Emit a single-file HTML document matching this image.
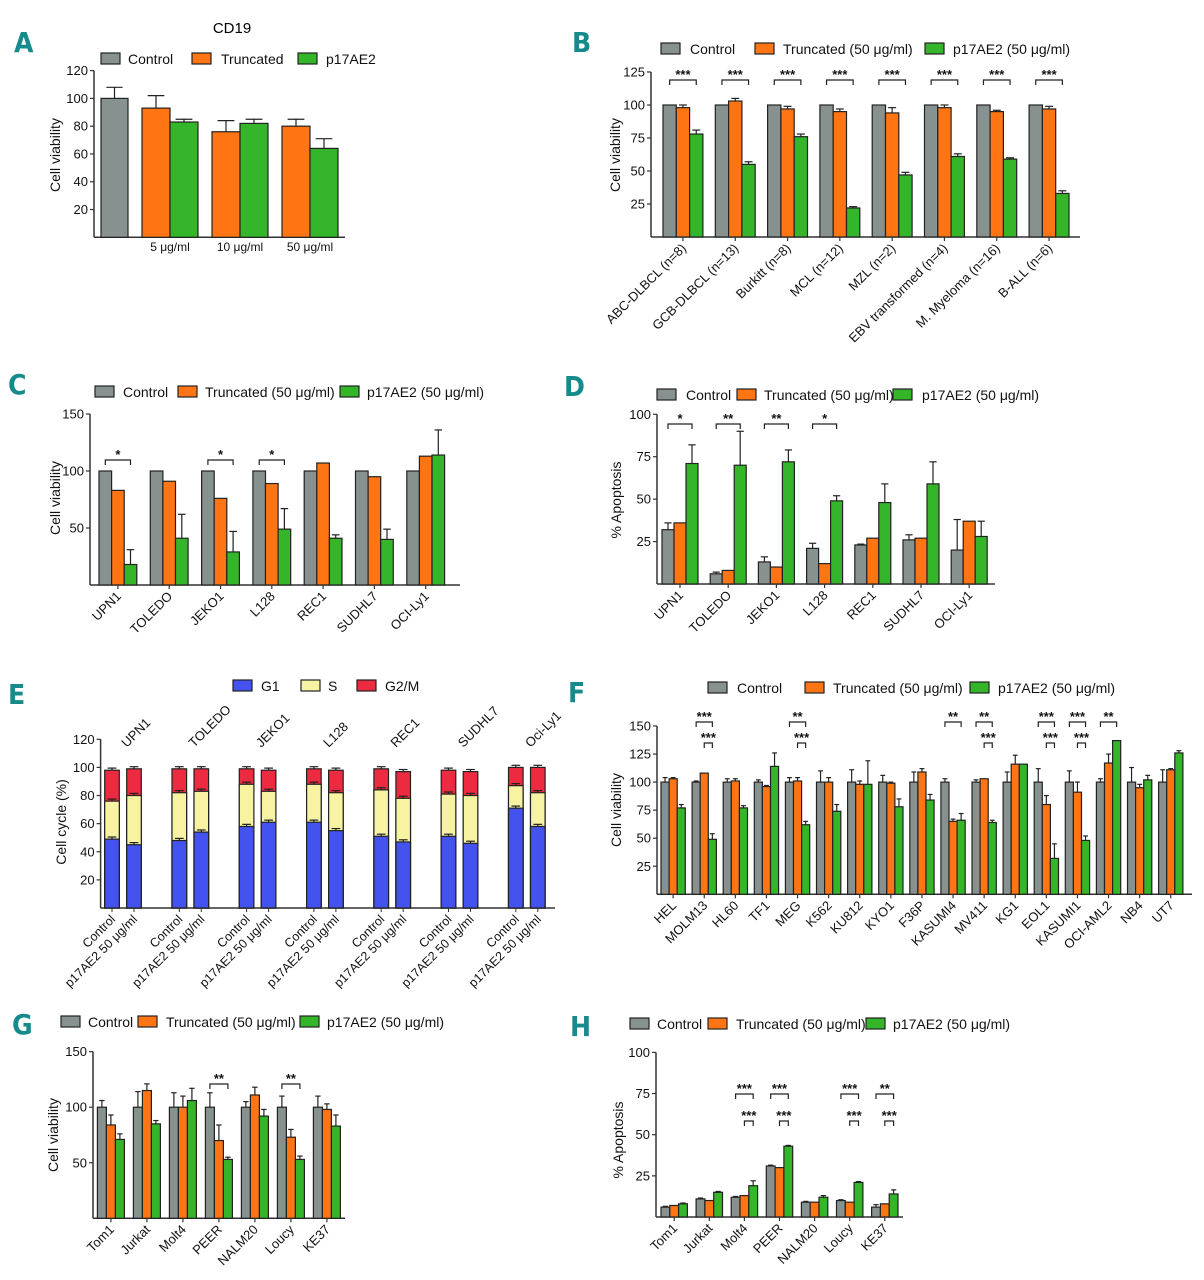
<!DOCTYPE html>
<html><head><meta charset="utf-8">
<style>
body{margin:0;background:#fff;}
svg{display:block;font-family:"Liberation Sans",sans-serif;}
.pl{font-family:"DejaVu Sans Condensed","Liberation Sans Narrow","Liberation Sans",sans-serif;font-weight:bold;fill:#178a8c;font-size:28px;}
</style></head>
<body>
<svg id="fig" width="1204" height="1280" viewBox="0 0 1204 1280" xmlns="http://www.w3.org/2000/svg">
<rect width="1204" height="1280" fill="#fff"/>
<text class="pl" x="14" y="52">A</text>
<text class="pl" x="572" y="52">B</text>
<text class="pl" x="8" y="394">C</text>
<text class="pl" x="564" y="396">D</text>
<text class="pl" x="8" y="704">E</text>
<text class="pl" x="568" y="702">F</text>
<text class="pl" x="12" y="1034">G</text>
<text class="pl" x="570" y="1036">H</text>
<text x="232" y="33" font-size="15" text-anchor="middle">CD19</text>
</svg>
<script>
// ---------- data ----------
const aCats = ["", "5 μg/ml", "10 μg/ml", "50 μg/ml"];
const aCtrl = [100, null, null, null];
const aTrunc = [null, 93, 76, 80];
const aGreen = [null, 83, 82, 64];
const aCtrlErr = [8, 0, 0, 0];
const aTruncErr = [0, 9, 8, 5];
const aGreenErr = [0, 2, 3, 7];
const aTicks = [20, 40, 60, 80, 100, 120];

const bCats = ["ABC-DLBCL (n=8)", "GCB-DLBCL (n=13)", "Burkitt (n=8)", "MCL (n=12)", "MZL (n=2)", "EBV transformed (n=4)", "M. Myeloma (n=16)", "B-ALL (n=6)"];
const bCtrl = [100, 100, 100, 100, 100, 100, 100, 100];
const bTrunc = [98, 103, 97, 95, 94, 98, 95, 97];
const bGreen = [78, 55, 76, 22, 47, 61, 59, 33];
const bTruncErr = [2, 2, 2, 2, 4, 2, 1, 2];
const bGreenErr = [3, 2, 2, 1, 2, 2, 1, 2];
const bTicks = [25, 50, 75, 100, 125];
const bSig = ["***", "***", "***", "***", "***", "***", "***", "***"];

const cCats = ["UPN1", "TOLEDO", "JEKO1", "L128", "REC1", "SUDHL7", "OCI-Ly1"];
const cCtrl = [100, 100, 100, 100, 100, 100, 100];
const cTrunc = [83, 91, 76, 89, 107, 95, 113];
const cGreen = [18, 41, 29, 49, 41, 40, 114];
const cGreenErr = [13, 21, 18, 18, 3, 9, 22];
const cTicks = [50, 100, 150];
const cSig = ["*", "", "*", "*", "", "", ""];

const dCats = ["UPN1", "TOLEDO", "JEKO1", "L128", "REC1", "SUDHL7", "OCI-Ly1"];
const dCtrl = [32, 6, 13, 21, 23, 26, 20];
const dTrunc = [36, 8, 10, 12, 27, 27, 37];
const dGreen = [71, 70, 72, 49, 48, 59, 28];
const dCtrlErr = [4, 1, 3, 3, 0.5, 3, 18];
const dGreenErr = [11, 20, 7, 3, 11, 13, 9];
const dTicks = [25, 50, 75, 100];
const dSig = ["*", "**", "**", "*", "", "", ""];

const eCats = ["UPN1", "TOLEDO", "JEKO1", "L128", "REC1", "SUDHL7", "Oci-Ly1"];
const eCtrlG1 = [49, 48, 58, 61, 51, 51, 71];
const eCtrlS = [27, 34, 30, 27, 33, 30, 16];
const eCtrlG2 = [22, 17, 11, 11, 15, 17, 13];
const eP17G1 = [45, 54, 61, 55, 47, 46, 58];
const eP17S = [35, 29, 22, 27, 31, 34, 24];
const eP17G2 = [19, 16, 15, 16, 19, 17, 18];
const eTicks = [20, 40, 60, 80, 100, 120];

const fCats = ["HEL", "MOLM13", "HL60", "TF1", "MEG", "K562", "KU812", "KYO1", "F36P", "KASUMI4", "MV411", "KG1", "EOL1", "KASUMI1", "OCI-AML2", "NB4", "UT7"];
const fCtrl = [100, 100, 100, 100, 100, 100, 100, 100, 100, 100, 100, 100, 100, 100, 100, 100, 100];
const fTrunc = [103, 108, 101, 96, 101, 100, 98, 99, 109, 65, 103, 116, 80, 91, 117, 95, 111];
const fGreen = [77, 49, 77, 114, 62, 74, 98, 78, 84, 66, 64, 116, 32, 48, 137, 102, 126];
const fCtrlErr = [4, 1, 3, 2, 4, 10, 11, 6, 9, 3, 2, 9, 12, 10, 3, 13, 11];
const fTruncErr = [1, 0, 2, 1, 3, 4, 3, 1, 3, 2, 0, 8, 8, 9, 8, 3, 1];
const fGreenErr = [3, 5, 2, 12, 3, 6, 21, 7, 5, 6, 2, 0, 13, 4, 0, 4, 2];
const fTicks = [25, 50, 75, 100, 125, 150];
const fSigTop = ["", "***", "", "", "**", "", "", "", "", "**", "**", "", "***", "***", "**", "", ""];
const fSigLow = ["", "***", "", "", "***", "", "", "", "", "", "***", "", "***", "***", "", "", ""];

const gCats = ["Tom1", "Jurkat", "Molt4", "PEER", "NALM20", "Loucy", "KE37"];
const gCtrl = [100, 100, 100, 100, 100, 100, 100];
const gTrunc = [84, 115, 100, 70, 111, 73, 98];
const gGreen = [71, 85, 106, 53, 92, 53, 83];
const gCtrlErr = [6, 14, 13, 13, 5, 10, 10];
const gTruncErr = [9, 6, 10, 14, 7, 7, 5];
const gGreenErr = [5, 3, 11, 2, 6, 3, 10];
const gTicks = [50, 100, 150];
const gSig = ["", "", "", "**", "", "**", ""];

const hCats = ["Tom1", "Jurkat", "Molt4", "PEER", "NALM20", "Loucy", "KE37"];
const hCtrl = [6, 11, 12, 31, 9, 10, 6];
const hTrunc = [7, 10, 13, 30, 9, 9, 8];
const hGreen = [8, 15, 19, 43, 12, 21, 14];
const hCtrlErr = [0.5, 0.5, 0.5, 0.5, 0.5, 0.5, 1.5];
const hGreenErr = [0.5, 0.5, 3, 0.5, 1, 0.5, 2.5];
const hTicks = [25, 50, 75, 100];
const hSigTop = ["", "", "***", "***", "", "***", "**"];
const hSigLow = ["", "", "***", "***", "", "***", "***"];

// ---------- drawing ----------
const NS = "http://www.w3.org/2000/svg";
const svg = document.getElementById("fig");
const GRAY = "#87918f", ORANGE = "#ff7514", GREEN = "#35b52a";
const BLUE = "#4452f0", YEL = "#f7f3a2", RED = "#ec2a40";

function mk(tag, attrs, parent) {
  const el = document.createElementNS(NS, tag);
  for (const k in attrs) el.setAttribute(k, attrs[k]);
  (parent || svg).appendChild(el);
  return el;
}
function txt(x, y, s, size, anchor, rot, name) {
  const t = mk("text", {x: x, y: y, "font-size": size, "text-anchor": anchor || "middle", fill: "#111"});
  if (rot) t.setAttribute("transform", "rotate(" + rot + " " + x + " " + y + ")");
  t.textContent = s;
  
  
  return t;
}
function makeY(y0, k) { return v => y0 - v * k; }

function axes(p, name) {
  const g = mk("g", {});
  
  
  const Y = makeY(p.y0, p.k);
  mk("line", {x1: p.x0, y1: p.y0, x2: p.x0, y2: Y(p.ymax), stroke: "#333", "stroke-width": 1.5}, g);
  mk("line", {x1: p.x0, y1: p.y0, x2: p.xEnd, y2: p.y0, stroke: "#333", "stroke-width": 1.5}, g);
  p.ticks.forEach(t => {
    mk("line", {x1: p.x0 - 4, y1: Y(t), x2: p.x0, y2: Y(t), stroke: "#333", "stroke-width": 1.2}, g);
    txt(p.x0 - 6, Y(t) + 4.5, String(t), 13, "end", 0, name + "-y-tick");
  });
  txt(p.ytx, p.yty, p.ytitle, 14, "middle", -90, name + "-y-axis-title");
}
function bar(x, w, v, err, p, fill, name) {
  const Y = makeY(p.y0, p.k);
  const r = mk("rect", {x: x, y: Y(v), width: w, height: p.y0 - Y(v), fill: fill, stroke: "#222", "stroke-width": 1.2});
  
  
  if (err) {
    const cx = x + w / 2;
    mk("line", {x1: cx, y1: Y(v), x2: cx, y2: Y(v + err), stroke: "#222", "stroke-width": 1.2});
    mk("line", {x1: cx - w * 0.3, y1: Y(v + err), x2: cx + w * 0.3, y2: Y(v + err), stroke: "#222", "stroke-width": 1.2});
  }
}
function bracket(x1, x2, y, s, name) {
  const g = mk("g", {});
  
  
  mk("path", {d: "M" + x1 + " " + (y + 5) + "V" + y + "H" + x2 + "V" + (y + 5), fill: "none", stroke: "#222", "stroke-width": 1.2}, g);
  const t = mk("text", {x: (x1 + x2) / 2, y: y - 1, "font-size": 13, "font-weight": "bold", "text-anchor": "middle", fill: "#111"}, g);
  t.textContent = s;
}
function legend(items, y, size) {
  items.forEach(it => {
    const g = mk("g", {});
    
    
    mk("rect", {x: it[0], y: y - 6, width: 19, height: 11, fill: it[1], stroke: "#222", "stroke-width": 1.2}, g);
    const t = mk("text", {x: it[2], y: y + 5, "font-size": size || 14, fill: "#111"}, g);
    t.textContent = it[3];
  });
}
function xLabels(cats, centers, y, name, rot) {
  cats.forEach((c, i) => {
    mk("line", {x1: centers[i], y1: y, x2: centers[i], y2: y + 4, stroke: "#333", "stroke-width": 1.2});
    txt(centers[i] + 4, y + 12, c, 13, "end", rot === undefined ? -45 : rot, name + "-x-label");
  });
}
function grouped(p, name, ctrl, trunc, green, ce, te, ge) {
  axes(p, name);
  const centers = [];
  ctrl.forEach((v, i) => {
    const gx = p.first + i * p.sp;
    bar(gx, p.bw, ctrl[i], ce ? ce[i] : 0, p, GRAY, name + "-bar-control");
    bar(gx + p.bw, p.bw, trunc[i], te ? te[i] : 0, p, ORANGE, name + "-bar-truncated");
    bar(gx + 2 * p.bw, p.bw, green[i], ge ? ge[i] : 0, p, GREEN, name + "-bar-p17ae2");
    centers.push(gx + 1.5 * p.bw);
  });
  xLabels(p.cats, centers, p.y0, name);
  return centers;
}

// Panel A
(function () {
  const p = {x0: 94, y0: 237.3, k: 1.389, ymax: 120, xEnd: 345, ticks: aTicks, ytitle: "Cell viability", ytx: 60, yty: 155};
  axes(p, "panel-a");
  aCats.forEach((c, i) => {
    const gx = i === 0 ? 101 : 72 + i * 70;
    if (aCtrl[i] !== null) bar(gx, 27, aCtrl[i], aCtrlErr[i], p, GRAY, "panel-a-bar-control");
    if (aTrunc[i] !== null) bar(gx, 28, aTrunc[i], aTruncErr[i], p, ORANGE, "panel-a-bar-truncated");
    if (aGreen[i] !== null) bar(gx + 28, 28, aGreen[i], aGreenErr[i], p, GREEN, "panel-a-bar-p17ae2");
    if (c) txt(gx + 28, 251, c, 12, "middle", 0, "panel-a-x-label");
  });
  legend([[101, GRAY, 128, "Control"], [192, ORANGE, 221, "Truncated"], [298, GREEN, 326, "p17AE2"]], 59);
})();

// Panel B
(function () {
  const p = {x0: 651, y0: 237, k: 1.32, ymax: 125, xEnd: 1080, ticks: bTicks, first: 663, sp: 52.3, bw: 13.3, cats: bCats, ytitle: "Cell viability", ytx: 620, yty: 155};
  grouped(p, "panel-b", bCtrl, bTrunc, bGreen, null, bTruncErr, bGreenErr);
  bSig.forEach((s, i) => { if (s) { const gx = p.first + i * p.sp; bracket(gx + p.bw / 2, gx + 2.5 * p.bw, 80, s, "panel-b-significance"); } });
  legend([[661, GRAY, 690, "Control"], [755, ORANGE, 783, "Truncated (50 μg/ml)"], [925, GREEN, 953, "p17AE2 (50 μg/ml)"]], 49);
})();

// Panel C
(function () {
  const p = {x0: 90, y0: 585, k: 1.14, ymax: 150, xEnd: 460, ticks: cTicks, first: 99, sp: 51.3, bw: 12.6, cats: cCats, ytitle: "Cell viability", ytx: 60, yty: 498};
  grouped(p, "panel-c", cCtrl, cTrunc, cGreen, null, null, cGreenErr);
  cSig.forEach((s, i) => { if (s) { const gx = p.first + i * p.sp; bracket(gx + p.bw / 2, gx + 2.5 * p.bw, 460, s, "panel-c-significance"); } });
  legend([[95, GRAY, 123, "Control"], [178, ORANGE, 205, "Truncated (50 μg/ml)"], [340, GREEN, 367, "p17AE2 (50 μg/ml)"]], 392);
})();

// Panel D
(function () {
  const p = {x0: 657, y0: 584, k: 1.697, ymax: 100, xEnd: 995, ticks: dTicks, first: 662, sp: 48.2, bw: 12, cats: dCats, ytitle: "% Apoptosis", ytx: 621, yty: 500};
  grouped(p, "panel-d", dCtrl, dTrunc, dGreen, dCtrlErr, null, dGreenErr);
  dSig.forEach((s, i) => { if (s) { const gx = p.first + i * p.sp; bracket(gx + p.bw / 2, gx + 2.5 * p.bw, 424, s, "panel-d-significance"); } });
  legend([[657, GRAY, 686, "Control"], [737, ORANGE, 764, "Truncated (50 μg/ml)"], [893, GREEN, 922, "p17AE2 (50 μg/ml)"]], 395);
})();

// Panel E
(function () {
  const p = {x0: 100.6, y0: 908, k: 1.406, ymax: 120, xEnd: 555, ticks: eTicks, ytitle: "Cell cycle (%)", ytx: 66, yty: 822};
  axes(p, "panel-e");
  const bw = 14.6;
  function stack(x, g1, s, g2, nm) {
    bar(x, bw, g1 + s + g2, 1.5, p, RED, nm + "-g2m");
    bar(x, bw, g1 + s, 1.5, p, YEL, nm + "-s");
    bar(x, bw, g1, 1.5, p, BLUE, nm + "-g1");
  }
  eCats.forEach((c, i) => {
    const gx = 104.7 + i * 67.3;
    stack(gx, eCtrlG1[i], eCtrlS[i], eCtrlG2[i], "panel-e-control");
    stack(gx + 22, eP17G1[i], eP17S[i], eP17G2[i], "panel-e-p17ae2");
    txt(gx + 22, 748, c, 13, "start", -45, "panel-e-group-label");
    mk("line", {x1: gx + bw / 2, y1: p.y0, x2: gx + bw / 2, y2: p.y0 + 4, stroke: "#333"});
    mk("line", {x1: gx + 22 + bw / 2, y1: p.y0, x2: gx + 22 + bw / 2, y2: p.y0 + 4, stroke: "#333"});
    txt(gx + bw / 2 + 4, p.y0 + 12, "Control", 12.5, "end", -45, "panel-e-x-label");
    txt(gx + 22 + bw / 2 + 4, p.y0 + 12, "p17AE2 50 μg/ml", 12.5, "end", -45, "panel-e-x-label");
  });
  legend([[233, BLUE, 261, "G1"], [301, YEL, 328, "S"], [357, RED, 385, "G2/M"]], 686);
})();

// Panel F
(function () {
  const p = {x0: 657, y0: 894.3, k: 1.122, ymax: 150, xEnd: 1192, ticks: fTicks, first: 661, sp: 31.1, bw: 8.1, cats: fCats, ytitle: "Cell viability", ytx: 621, yty: 810};
  grouped(p, "panel-f", fCtrl, fTrunc, fGreen, fCtrlErr, fTruncErr, fGreenErr);
  fCats.forEach((c, i) => {
    const gx = p.first + i * p.sp;
    if (fSigTop[i]) bracket(gx + p.bw / 2, gx + 2.5 * p.bw, 722, fSigTop[i], "panel-f-significance");
    if (fSigLow[i]) bracket(gx + 1.5 * p.bw, gx + 2.5 * p.bw, 743, fSigLow[i], "panel-f-significance");
  });
  legend([[708, GRAY, 737, "Control"], [805, ORANGE, 833, "Truncated (50 μg/ml)"], [970, GREEN, 998, "p17AE2 (50 μg/ml)"]], 688);
})();

// Panel G
(function () {
  const p = {x0: 93, y0: 1218.3, k: 1.111, ymax: 150, xEnd: 345, ticks: gTicks, first: 97.4, sp: 36, bw: 9, cats: gCats, ytitle: "Cell viability", ytx: 58, yty: 1135};
  grouped(p, "panel-g", gCtrl, gTrunc, gGreen, gCtrlErr, gTruncErr, gGreenErr);
  gSig.forEach((s, i) => { if (s) { const gx = p.first + i * p.sp; bracket(gx + p.bw / 2, gx + 2.5 * p.bw, 1084, s, "panel-g-significance"); } });
  legend([[61, GRAY, 88, "Control"], [138, ORANGE, 166, "Truncated (50 μg/ml)"], [300, GREEN, 327, "p17AE2 (50 μg/ml)"]], 1022);
})();

// Panel H
(function () {
  const p = {x0: 656, y0: 1217, k: 1.646, ymax: 100, xEnd: 903, ticks: hTicks, first: 661, sp: 35.1, bw: 8.8, cats: hCats, ytitle: "% Apoptosis", ytx: 623, yty: 1140};
  grouped(p, "panel-h", hCtrl, hTrunc, hGreen, hCtrlErr, null, hGreenErr);
  hCats.forEach((c, i) => {
    const gx = p.first + i * p.sp;
    if (hSigTop[i]) bracket(gx + p.bw / 2, gx + 2.5 * p.bw, 1094, hSigTop[i], "panel-h-significance");
    if (hSigLow[i]) bracket(gx + 1.5 * p.bw, gx + 2.5 * p.bw, 1121, hSigLow[i], "panel-h-significance");
  });
  legend([[630, GRAY, 657, "Control"], [708, ORANGE, 736, "Truncated (50 μg/ml)"], [866, GREEN, 893, "p17AE2 (50 μg/ml)"]], 1024);
})();
</script>
</body></html>
